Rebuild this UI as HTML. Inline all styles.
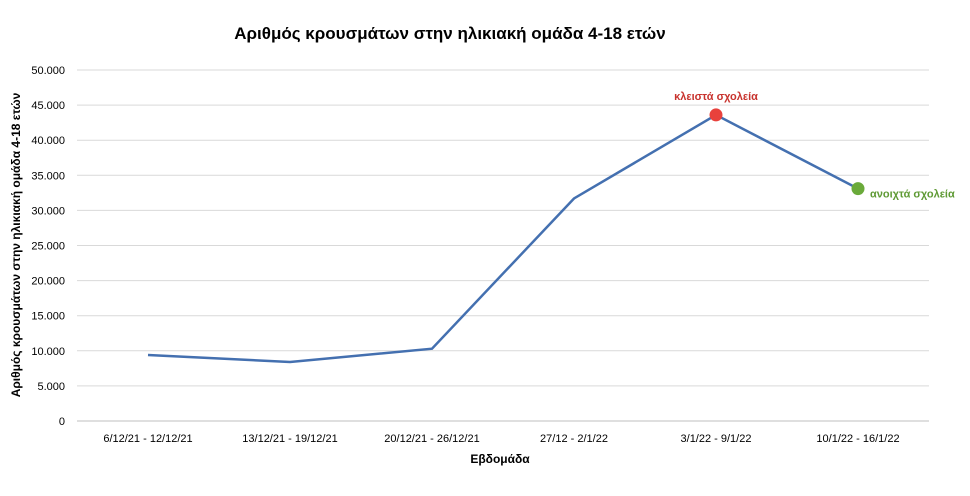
<!DOCTYPE html>
<html><head><meta charset="utf-8">
<style>
body{margin:0;background:#fff;font-family:"Liberation Sans",sans-serif;}
svg text{font-family:"Liberation Sans",sans-serif;}
</style></head>
<body>
<svg width="970" height="491" xmlns="http://www.w3.org/2000/svg">
<text x="450" y="39" text-anchor="middle" font-size="17" font-weight="bold" fill="#000">Αριθμός κρουσμάτων στην ηλικιακή ομάδα 4-18 ετών</text>
<g id="grid"></g>
<g id="yticks"></g>
<g id="xticks"></g>
<path id="line" fill="none" stroke="#4470b0" stroke-width="2.5"/>
<g id="marks"></g>
<text x="500" y="463" text-anchor="middle" font-size="12" font-weight="bold">Εβδομάδα</text>
<text transform="translate(20,245) rotate(-90)" text-anchor="middle" font-size="12" font-weight="bold">Αριθμός κρουσμάτων στην ηλικιακή ομάδα 4-18 ετών</text>
</svg>
<script>
const categories=["6/12/21 - 12/12/21","13/12/21 - 19/12/21","20/12/21 - 26/12/21","27/12 - 2/1/22","3/1/22 - 9/1/22","10/1/22 - 16/1/22"];
const values=[9400,8400,10300,31700,43600,33100];
const yTicks=[0,5000,10000,15000,20000,25000,30000,35000,40000,45000,50000];
const yTickLabels=["0","5.000","10.000","15.000","20.000","25.000","30.000","35.000","40.000","45.000","50.000"];
const NS="http://www.w3.org/2000/svg";
const L=77,R=929,T=70,B=421,yMax=50000;
const xs=i=>L+(R-L)/categories.length*(i+0.5);
const ys=v=>B-(B-T)*v/yMax;
function mk(tag,attrs,parent){const e=document.createElementNS(NS,tag);for(const k in attrs)e.setAttribute(k,attrs[k]);parent.appendChild(e);return e;}
const grid=document.getElementById('grid'),yt=document.getElementById('yticks'),xt=document.getElementById('xticks'),marks=document.getElementById('marks');
yTicks.forEach((v,i)=>{
 const l=mk('line',{x1:L,x2:R,y1:ys(v),y2:ys(v),stroke:i===0?'#bfbfbf':'#d9d9d9','stroke-width':1},grid);
 
 
 const t=mk('text',{x:L-12,y:ys(v)+4,'text-anchor':'end','font-size':11,fill:'#000'},yt);
 t.textContent=yTickLabels[i];
 
 
});
categories.forEach((c,i)=>{
 const t=mk('text',{x:xs(i),y:442,'text-anchor':'middle','font-size':11,fill:'#000'},xt);
 t.textContent=c;
 
 
});
document.getElementById('line').setAttribute('d',values.map((v,i)=>(i?'L':'M')+xs(i)+','+ys(v)).join(' '));
const i1=4,i2=5;
const c1=mk('circle',{cx:xs(i1),cy:ys(values[i1]),r:6.5,fill:'#e8413c'},marks);


const c2=mk('circle',{cx:xs(i2),cy:ys(values[i2]),r:6.5,fill:'#6aaa3a'},marks);


const a1=mk('text',{x:xs(i1),y:ys(values[i1])-15,'text-anchor':'middle','font-size':11,'font-weight':'bold',fill:'#c8332e'},marks);
a1.textContent='κλειστά σχολεία';


const a2=mk('text',{x:xs(i2)+12,y:ys(values[i2])+9,'font-size':11,'font-weight':'bold',fill:'#5f9a35'},marks);
a2.textContent='ανοιχτά σχολεία';


</script>
</body></html>
